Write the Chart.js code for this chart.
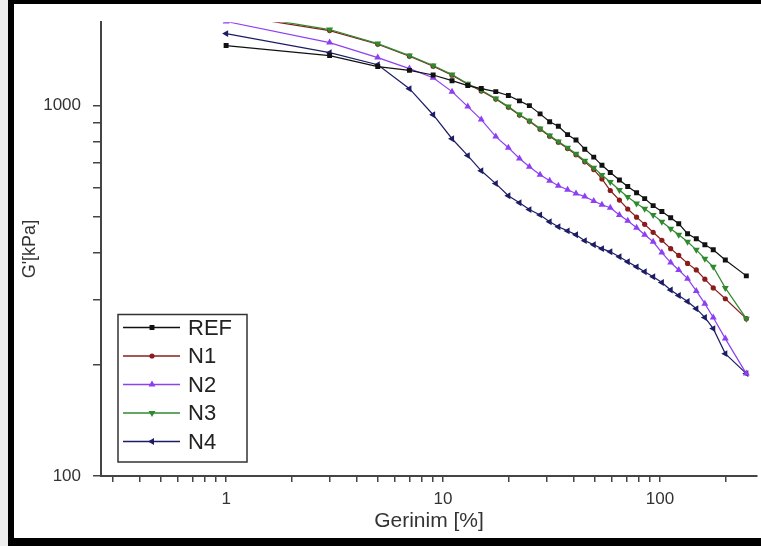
<!DOCTYPE html>
<html>
<head>
<meta charset="utf-8">
<script src="https://cdn.jsdelivr.net/npm/chart.js@4.4.0/dist/chart.umd.min.js"></script>
<style>
    html, body { margin: 0; padding: 0; background: #fff; }
    #wrap { width: 761px; height: 546px; position: relative; }
</style>
</head>
<body>
<div id="wrap"><canvas id="modulusChart" width="761" height="546"></canvas></div>
<script>
// Gerinim taraması: G' (kPa) - gerinim (%)
const strain = [1, 3, 5, 7, 9, 11, 13, 15, 17.5, 20, 22.5, 25, 28, 31, 34, 37.5, 41, 45, 49.5, 54,
    59, 65, 71, 78, 85, 93, 102, 112, 122, 134, 147, 161, 176, 200, 250];

const gREF = [1453, 1365, 1275, 1245, 1210, 1168, 1133, 1112, 1091, 1065, 1030, 1000, 950, 905, 880, 835, 808, 763, 726, 690,
    660, 630, 605, 582, 561, 537, 518, 498, 480, 451, 437, 421, 408, 383, 347];
const gN1 = [1765, 1595, 1465, 1360, 1278, 1208, 1142, 1096, 1042, 990, 943, 908, 864, 827, 797, 766, 737, 705, 672, 634,
    590, 556, 526, 500, 478, 455, 433, 411, 394, 375, 360, 340, 322, 301, 266];
const gN2 = [1687, 1480, 1348, 1259, 1190, 1091, 994, 917, 825, 770, 720, 684, 651, 627, 608, 593, 579, 568, 553, 540,
    530, 507, 489, 468, 448, 429, 401, 377, 360, 341, 316, 292, 268, 235, 189];
const gN3 = [1783, 1605, 1471, 1365, 1283, 1213, 1146, 1100, 1045, 994, 946, 911, 867, 830, 800, 770, 742, 710, 680, 650,
    622, 592, 567, 544, 527, 507, 486, 465, 448, 429, 408, 386, 367, 322, 266];
const gN4 = [1565, 1390, 1290, 1111, 945, 814, 733, 667, 616, 571, 547, 524, 507, 486, 471, 459, 448, 432, 421, 411,
    403, 391, 379, 367, 356, 345, 333, 318, 307, 296, 283, 268, 250, 214, 189];

const xLabels = [1, 10, 100];
const yLabels = [100, 1000];

const toPoints = (vals) => strain.map((x, i) => ({ x: x, y: vals[i] }));

// sadece 1-9 x 10^n değerlerinde çentik bırak
const isDecadeStep = (v) => {
    const m = v / Math.pow(10, Math.floor(Math.log10(v) + 1e-9));
    return Math.abs(m - Math.round(m)) < 1e-6;
};

const FONT = 'Liberation Sans, Arial, sans-serif';

function series(label, vals, color, style, rotation, radius, order) {
    return {
        label: label,
        data: toPoints(vals),
        order: order,
        borderColor: color,
        backgroundColor: color,
        borderWidth: 1.2,
        pointStyle: style,
        pointRotation: rotation,
        pointRadius: radius,
        pointBorderWidth: 0,
        pointHoverRadius: radius,
        tension: 0
    };
}

// çerçeve ve kutulu açıklama
const framePlugin = {
    id: 'frame',
    beforeDraw(chart) {
        const ctx = chart.ctx;
        ctx.save();
        ctx.fillStyle = '#ffffff';
        ctx.fillRect(0, 0, chart.width, chart.height);
        ctx.fillStyle = '#eeeeee';
        ctx.fillRect(0, 0, 8, chart.height);
        ctx.restore();
    },
    afterDraw(chart) {
        const ctx = chart.ctx;
        ctx.save();
        ctx.fillStyle = '#000';
        ctx.fillRect(8, 0, 6, chart.height);
        ctx.fillRect(8, 0, chart.width - 8, 4);
        ctx.fillRect(8, chart.height - 8, chart.width - 8, 8);
        ctx.restore();
    }
};

const boxLegendPlugin = {
    id: 'boxLegend',
    afterDatasetsDraw(chart) {
        const ctx = chart.ctx;
        const area = chart.chartArea;
        const left = area.left + 17;
        const bottom = area.bottom - 14;
        const rowH = 28.5;
        const sets = chart.data.datasets;
        const top = bottom - rowH * sets.length - 5;
        ctx.save();
        ctx.fillStyle = '#fff';
        ctx.fillRect(left, top, 129, bottom - top);
        ctx.strokeStyle = '#333';
        ctx.lineWidth = 1.5;
        ctx.strokeRect(left, top, 129, bottom - top);
        ctx.font = '22px ' + FONT;
        ctx.textBaseline = 'middle';
        sets.forEach((ds, i) => {
            const y = top + 13 + rowH * i;
            ctx.strokeStyle = ds.borderColor;
            ctx.lineWidth = 1.3;
            ctx.beginPath();
            ctx.moveTo(left + 5, y);
            ctx.lineTo(left + 62, y);
            ctx.stroke();
            ctx.fillStyle = ds.backgroundColor;
            Chart.helpers.drawPoint(ctx, {
                pointStyle: ds.pointStyle,
                rotation: ds.pointRotation,
                radius: ds.pointRadius,
                borderWidth: 0
            }, left + 34, y);
            ctx.fillStyle = '#222';
            ctx.fillText(ds.label, left + 70, y + 1);
        });
        ctx.restore();
    }
};

const modulusCtx = document.getElementById('modulusChart').getContext('2d');
const modulusChart = new Chart(modulusCtx, {
    type: 'line',
    data: {
        datasets: [
            series('REF', gREF, '#111111', 'rect', 0, 3.5, 0),
            series('N1', gN1, '#8a1c1c', 'circle', 0, 2.6, 2),
            series('N2', gN2, '#8e3ff2', 'triangle', 0, 4, 3),
            series('N3', gN3, '#2f8a2f', 'triangle', 180, 4, 1),
            series('N4', gN4, '#1d1d66', 'triangle', -90, 4, 4)
        ]
    },
    options: {
        responsive: false,
        animation: false,
        events: [],
        layout: {
            padding: { top: 22, right: 4, bottom: 0, left: 0 }
        },
        plugins: {
            legend: { display: false },
            tooltip: { enabled: false }
        },
        scales: {
            x: {
                type: 'logarithmic',
                min: 0.265,
                max: 280,
                afterBuildTicks: (scale) => {
                    scale.ticks = scale.ticks.filter(t => isDecadeStep(t.value));
                },
                afterFit: (scale) => { scale.height = 70; },
                border: { display: true, color: '#444', width: 2 },
                grid: {
                    display: true,
                    drawOnChartArea: false,
                    drawTicks: true,
                    tickLength: 6,
                    color: '#444',
                    lineWidth: 1.5
                },
                ticks: {
                    autoSkip: false,
                    maxRotation: 0,
                    padding: 7,
                    color: '#333',
                    font: { family: FONT, size: 17 },
                    callback: (v) => xLabels.includes(v) ? String(v) : ''
                },
                title: {
                    display: true,
                    text: 'Gerinim [%]',
                    color: '#333',
                    font: { family: FONT, size: 21 },
                    padding: { top: 0, bottom: 12 }
                }
            },
            y: {
                type: 'logarithmic',
                min: 100,
                max: 1680,
                afterBuildTicks: (scale) => {
                    scale.ticks = scale.ticks.filter(t => isDecadeStep(t.value));
                },
                afterFit: (scale) => { scale.width = 101; },
                border: { display: true, color: '#444', width: 2 },
                grid: {
                    display: true,
                    drawOnChartArea: false,
                    drawTicks: true,
                    tickLength: 8,
                    color: '#444',
                    lineWidth: 1.5
                },
                ticks: {
                    autoSkip: false,
                    padding: 12,
                    color: '#333',
                    font: { family: FONT, size: 17 },
                    callback: (v) => yLabels.includes(v) ? String(v) : ''
                },
                title: {
                    display: true,
                    text: "G'[kPa]",
                    color: '#333',
                    font: { family: FONT, size: 18 },
                    padding: { top: 19, bottom: 0 }
                }
            }
        }
    },
    plugins: [framePlugin, boxLegendPlugin]
});
</script>
</body>
</html>
